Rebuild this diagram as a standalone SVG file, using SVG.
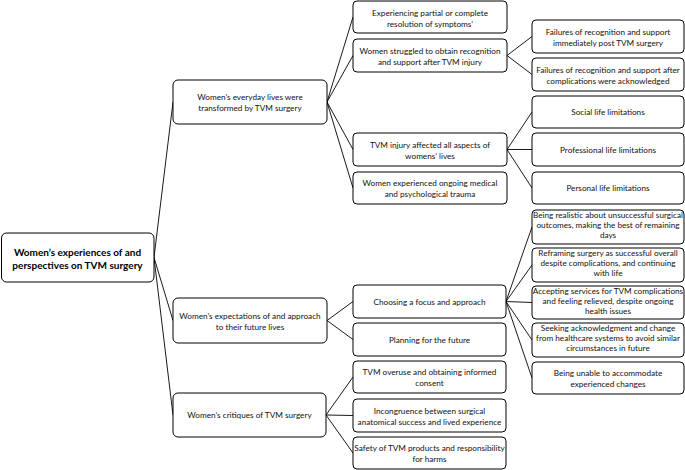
<svg xmlns="http://www.w3.org/2000/svg" width="685" height="470" viewBox="0 0 685 470">
<style>
.box{fill:#fff;stroke:#000;stroke-width:1}
.t{font-family:Lato,"Liberation Sans",sans-serif;font-size:8.2px;fill:#111;text-anchor:middle}
.b{font-family:Lato,"Liberation Sans",sans-serif;font-size:10px;font-weight:bold;fill:#000;text-anchor:middle}
.c{stroke:#000;stroke-width:0.9;fill:none}
</style>
<rect width="685" height="470" fill="#fff"/>
<g id="connectors">
<path class="c" d="M154,257.5 L173,102 M154,257.5 L173,320.5 M154,257.5 L173,415"/>
<path class="c" d="M327,102 L353,17 M327,102 L353,55.5 M327,102 L353,149.5 M327,102 L353,188"/>
<path class="c" d="M507,55.5 L532,36.5 M507,55.5 L532,74.5"/>
<path class="c" d="M507,149.5 L532,112 M507,149.5 L532,149.5 M507,149.5 L532,188"/>
<path class="c" d="M327,320.5 L353,301.5 M327,320.5 L353,339.5"/>
<path class="c" d="M506,301.5 L532,227 M506,301.5 L532,265 M506,301.5 L532,302.5 M506,301.5 L532,340 M506,301.5 L532,378"/>
<path class="c" d="M326,415 L353,377 M326,415 L353,415.5 M326,415 L353,453"/>
</g>
<g id="root"><rect class="box" x="1.5" y="233" width="152.5" height="49" rx="5"/>
<text class="b" x="77.5" y="255.5">Women’s experiences of and</text>
<text class="b" x="77.5" y="268.5">perspectives on TVM surgery</text></g>
<g id="n1"><rect class="box" x="173" y="80" width="154" height="44" rx="5"/>
<text class="t" x="250" y="100">Women’s everyday lives were</text>
<text class="t" x="250" y="111">transformed by TVM surgery</text></g>
<g id="n2"><rect class="box" x="173" y="298" width="154" height="45" rx="5"/>
<text class="t" x="250" y="318.5">Women’s expectations of and approach</text>
<text class="t" x="250" y="329.5">to their future lives</text></g>
<g id="n3"><rect class="box" x="173" y="393" width="153" height="44" rx="5"/>
<text class="t" x="249.5" y="418">Women’s critiques of TVM surgery</text></g>
<g id="n1a"><rect class="box" x="353" y="1" width="154" height="32" rx="4"/>
<text class="t" x="430" y="15.5">Experiencing partial or complete</text>
<text class="t" x="430" y="26.5">resolution of symptoms’</text></g>
<g id="n1b"><rect class="box" x="353" y="39" width="154" height="33" rx="4"/>
<text class="t" x="430" y="53.5">Women struggled to obtain recognition</text>
<text class="t" x="430" y="64.5">and support after TVM injury</text></g>
<g id="n1c"><rect class="box" x="353" y="133" width="154" height="33" rx="4"/>
<text class="t" x="430" y="147.5">TVM injury affected all aspects of</text>
<text class="t" x="430" y="158.5">womens’ lives</text></g>
<g id="n1d"><rect class="box" x="353" y="172" width="154" height="32" rx="4"/>
<text class="t" x="430" y="185.5">Women experienced ongoing medical</text>
<text class="t" x="430" y="196.5">and psychological trauma</text></g>
<g id="n2a"><rect class="box" x="353" y="285" width="153" height="33" rx="4"/>
<text class="t" x="429.5" y="304.5">Choosing a focus and approach</text></g>
<g id="n2b"><rect class="box" x="353" y="323" width="153" height="33" rx="4"/>
<text class="t" x="429.5" y="342.5">Planning for the future</text></g>
<g id="n3a"><rect class="box" x="353" y="361" width="153" height="32" rx="4"/>
<text class="t" x="429.5" y="374.5">TVM overuse and obtaining informed</text>
<text class="t" x="429.5" y="385.5">consent</text></g>
<g id="n3b"><rect class="box" x="353" y="399" width="153" height="33" rx="4"/>
<text class="t" x="429.5" y="413.5">Incongruence between surgical</text>
<text class="t" x="429.5" y="424.5">anatomical success and lived experience</text></g>
<g id="n3c"><rect class="box" x="353" y="437" width="153" height="32" rx="4"/>
<text class="t" x="429.5" y="450.5">Safety of TVM products and responsibility</text>
<text class="t" x="429.5" y="461.5">for harms</text></g>
<g id="n1b1"><rect class="box" x="532" y="20" width="152" height="33" rx="4"/>
<text class="t" x="608" y="34.5">Failures of recognition and support</text>
<text class="t" x="608" y="45.5">immediately post TVM surgery</text></g>
<g id="n1b2"><rect class="box" x="532" y="58" width="152" height="33" rx="4"/>
<text class="t" x="608" y="72.5">Failures of recognition and support after</text>
<text class="t" x="608" y="83.5">complications were acknowledged</text></g>
<g id="n1c1"><rect class="box" x="532" y="96" width="152" height="32" rx="4"/>
<text class="t" x="608" y="115">Social life limitations</text></g>
<g id="n1c2"><rect class="box" x="532" y="133" width="152" height="33" rx="4"/>
<text class="t" x="608" y="152.5">Professional life limitations</text></g>
<g id="n1c3"><rect class="box" x="532" y="172" width="152" height="32" rx="4"/>
<text class="t" x="608" y="191">Personal life limitations</text></g>
<g id="n2a1"><rect class="box" x="532" y="210" width="152" height="34" rx="4"/>
<text class="t" x="608" y="218">Being realistic about unsuccessful surgical</text>
<text class="t" x="608" y="228">outcomes, making the best of remaining</text>
<text class="t" x="608" y="238">days</text></g>
<g id="n2a2"><rect class="box" x="532" y="248" width="152" height="34" rx="4"/>
<text class="t" x="608" y="256">Reframing surgery as successful overall</text>
<text class="t" x="608" y="266">despite complications, and continuing</text>
<text class="t" x="608" y="276">with life</text></g>
<g id="n2a3"><rect class="box" x="532" y="286" width="152" height="33" rx="4"/>
<text class="t" x="608" y="293.5">Accepting services for TVM complications</text>
<text class="t" x="608" y="303.5">and feeling relieved, despite ongoing</text>
<text class="t" x="608" y="313.5">health issues</text></g>
<g id="n2a4"><rect class="box" x="532" y="323" width="152" height="34" rx="4"/>
<text class="t" x="608" y="331">Seeking acknowledgment and change</text>
<text class="t" x="608" y="341">from healthcare systems to avoid similar</text>
<text class="t" x="608" y="351">circumstances in future</text></g>
<g id="n2a5"><rect class="box" x="532" y="362" width="152" height="32" rx="4"/>
<text class="t" x="608" y="375.5">Being unable to accommodate</text>
<text class="t" x="608" y="386.5">experienced changes</text></g>
</svg>
